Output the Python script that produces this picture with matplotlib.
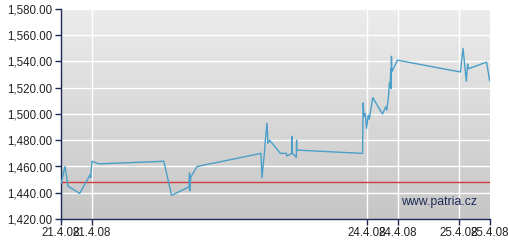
import matplotlib
matplotlib.use("Agg")
import matplotlib.pyplot as plt
import numpy as np

# time axis is an intraday index (trading minutes squeezed together)
x = [0.3, 4, 7, 18.7, 29, 29.7, 31, 38, 103, 110.7, 128.3, 128.7, 129, 130, 136.3,
     200.3, 201.3, 203.7, 204.7, 206.3, 207.3, 209, 219.7, 225.7, 226.3, 231.3,
     231.3, 231.7, 235.7, 236, 236, 302, 302.7, 303.3, 304.7, 306, 307.7, 308.7,
     312.3, 322, 325.3, 326.3, 328, 329, 329.7, 330.3, 330.7, 331, 331.3, 337,
     400, 402.7, 406, 407.3, 408, 426.3, 429.3]
price = [1447.5, 1460, 1445, 1439.5, 1453.5, 1451.5, 1464, 1462, 1464, 1438, 1444.5,
         1455, 1441.5, 1452, 1460, 1470, 1451.5, 1470, 1480, 1493, 1477.5, 1480,
         1470, 1470, 1468, 1470, 1483, 1470, 1467, 1480, 1472.5, 1470, 1508.5, 1498,
         1500.5, 1489, 1499, 1496, 1512.5, 1500, 1505.5, 1503, 1513, 1524, 1520.5,
         1534.5, 1519.5, 1544, 1532, 1541, 1532, 1550, 1525, 1538, 1534.5, 1539.5,
         1525.5]
ref_price = 1448
tick_pos = [0, 31, 306.3, 337.7, 398.7, 429.7]
tick_labels = ["21.4.08", "21.4.08", "24.4.08", "24.4.08", "25.4.08", "25.4.08"]
y_ticks = [1420, 1440, 1460, 1480, 1500, 1520, 1540, 1560, 1580]

plt.rcParams['font.family'] = ['Liberation Sans', 'DejaVu Sans']

fig = plt.figure(figsize=(5.08, 2.49), dpi=100)
fig.patch.set_facecolor('white')
ax = fig.add_axes([61/508, 30/249, 429/508, 210/249])

xmin, xmax = 0, 429.7
ymin, ymax = 1420, 1580

# grey vertical gradient background
grad = np.linspace(0, 1, 256).reshape(-1, 1)
cmap = matplotlib.colors.LinearSegmentedColormap.from_list("bg", ["#c6c6c6", "#ececec"])
ax.imshow(grad, aspect='auto', cmap=cmap, origin='lower',
          extent=[xmin, xmax, ymin, ymax], zorder=0)

for yv in y_ticks[1:]:
    ax.axhline(yv, color='white', lw=1.0, zorder=1)
for xv in tick_pos[1:-1]:
    ax.axvline(xv, color='white', lw=1.0, zorder=1)

ax.axhline(ref_price, color='#cc3c3c', lw=1.0, zorder=2)
ax.plot(x, price, color='#4a9fc8', lw=1.0, zorder=3)

ax.text(341, 1433, "www.patria.cz", color='#1c2a55', fontsize=8.8, va='center', zorder=4)

ax.set_xlim(xmin, xmax)
ax.set_ylim(ymin, ymax)
ax.set_xticks(tick_pos)
ax.set_xticklabels(tick_labels)
ax.set_yticks(y_ticks)
ax.set_yticklabels(["{:,.2f}".format(v) for v in y_ticks])
ax.tick_params(axis='both', labelsize=8.3, colors='#1c2a55', labelcolor='#222222',
               length=4, width=1, direction='out', pad=2)

for s in ['top', 'right']:
    ax.spines[s].set_visible(False)
for s in ['left', 'bottom']:
    ax.spines[s].set_color('#1c2a55')
    ax.spines[s].set_linewidth(1)

fig.savefig("out.png", dpi=100)
